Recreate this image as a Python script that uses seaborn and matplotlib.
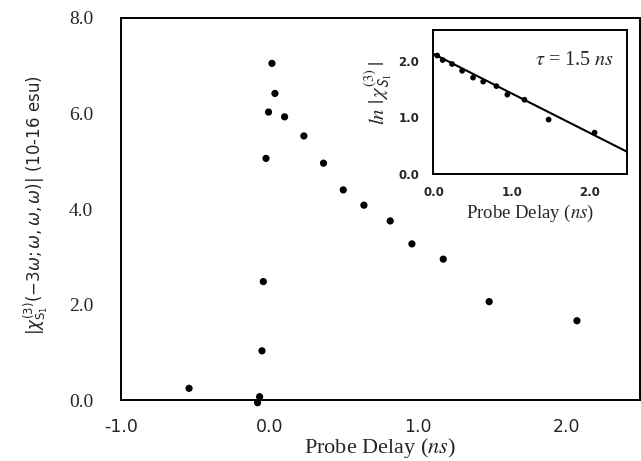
import matplotlib
matplotlib.use("Agg")
import matplotlib.pyplot as plt
import seaborn as sns
import pandas as pd
from matplotlib.ticker import MultipleLocator, FixedLocator

# ---------------- data ----------------
delay_ns = [-0.542, -0.081, -0.067, -0.051, -0.042, -0.024, -0.007, 0.016, 0.036,
            0.101, 0.231, 0.363, 0.496, 0.635, 0.812, 0.958, 1.169, 1.478, 2.069]
chi3 = [0.245, -0.057, 0.069, 1.03, 2.48, 5.06, 6.03, 7.05, 6.42,
        5.93, 5.53, 4.96, 4.40, 4.08, 3.75, 3.27, 2.95, 2.06, 1.66]

inset_delay = [0.04, 0.11, 0.23, 0.36, 0.50, 0.63, 0.80, 0.94, 1.16, 1.47, 2.06]
inset_lnchi = [2.09, 2.01, 1.94, 1.82, 1.70, 1.63, 1.55, 1.40, 1.31, 0.96, 0.73]

fit_x = [-0.01, 2.48]
fit_y = [2.12, 0.39]

x_ticks = [-1.0, 0.0, 1.0, 2.0]
x_ticklabels = ["-1.0", "0.0", "1.0", "2.0"]
y_ticks = [0.0, 2.0, 4.0, 6.0, 8.0]
y_ticklabels = ["0.0", "2.0", "4.0", "6.0", "8.0"]
in_ticks = [0.0, 1.0, 2.0]
in_ticklabels = ["0.0", "1.0", "2.0"]

main_df = pd.DataFrame({"delay": delay_ns, "chi": chi3})
inset_df = pd.DataFrame({"delay": inset_delay, "lnchi": inset_lnchi})
fit_df = pd.DataFrame({"delay": fit_x, "lnchi": fit_y})

# ---------------- style ----------------
sns.set_style("white")
plt.rcParams["font.family"] = ["Liberation Serif", "DejaVu Sans"]
plt.rcParams["axes.linewidth"] = 1.4
plt.rcParams["axes.edgecolor"] = "black"

W, H = 641, 461
fig = plt.figure(figsize=(W / 100, H / 100), dpi=100)

def frac(l, t, r, b):
    return [l / W, 1 - b / H, (r - l) / W, (b - t) / H]

# main axes
ax = fig.add_axes(frac(121, 18, 639.5, 400))
sns.scatterplot(data=main_df, x="delay", y="chi", ax=ax, color="black",
                s=27, edgecolor="none", clip_on=False, legend=False, zorder=3)
ax.set_xlim(-1.0, 2.49)
ax.set_ylim(0.0, 8.0)
for sp in ax.spines.values():
    sp.set_visible(True)
    sp.set_color("black")
    sp.set_linewidth(1.4)

ax.set_xticks(x_ticks)
ax.set_xticklabels(x_ticklabels, family="DejaVu Sans", fontsize=12.5)
ax.xaxis.set_minor_locator(FixedLocator([-0.5, 0.5, 1.5]))
ax.tick_params(axis="x", which="major", direction="in", length=8, width=1.2,
               pad=13, color="black")
ax.tick_params(axis="x", which="minor", direction="in", length=4, width=1.0)
ax.set_yticks(y_ticks)
ax.set_yticklabels(y_ticklabels, family="Liberation Serif", fontsize=14)
ax.tick_params(axis="y", which="major", direction="in", length=7, width=1.2,
               pad=20)

ax.set_xlabel(r"Probe Delay ($\mathit{ns}$)", family="Liberation Serif",
              fontsize=16, math_fontfamily="stix")
ax.xaxis.set_label_coords(0.5, -0.093)
ax.set_ylabel(r"$|\chi^{(3)}_{\mathrm{S}_1}(-3\omega;\omega,\omega,\omega)|$ (10-16 esu)",
              family="DejaVu Sans", fontsize=12, math_fontfamily="dejavusans")
ax.yaxis.set_label_coords(-0.137, 0.51)

# inset axes
ins = fig.add_axes(frac(433.3, 30, 627.3, 174))
sns.lineplot(data=fit_df, x="delay", y="lnchi", ax=ins, color="black",
             linewidth=1.5, legend=False)
sns.scatterplot(data=inset_df, x="delay", y="lnchi", ax=ins, color="black",
                s=17, edgecolor="none", legend=False, zorder=3)
ins.set_xlim(-0.01, 2.48)
ins.set_ylim(0.0, 2.54)
for sp in ins.spines.values():
    sp.set_visible(True)
    sp.set_color("black")
    sp.set_linewidth(1.4)
ins.set_xticks(in_ticks)
ins.set_xticklabels(in_ticklabels, family="DejaVu Sans", fontsize=8.5,
                    fontweight="bold")
ins.set_yticks(in_ticks)
ins.set_yticklabels(in_ticklabels, family="DejaVu Sans", fontsize=8.5,
                    fontweight="bold")
ins.xaxis.set_minor_locator(MultipleLocator(0.5))
ins.yaxis.set_minor_locator(MultipleLocator(0.5))
ins.tick_params(which="major", direction="in", length=4, width=1.0, pad=9)
ins.tick_params(which="minor", direction="in", length=3, width=1.0)
ins.tick_params(axis="y", which="major", pad=10)
ins.set_xlabel(r"Probe Delay ($\mathit{ns}$)", family="Liberation Serif",
               fontsize=13.5, math_fontfamily="stix")
ins.xaxis.set_label_coords(0.5, -0.2)
ins.set_ylabel(r"$\mathit{ln}\ |\,\chi^{(3)}_{\mathsf{S}_1}\,|$", fontsize=15,
               math_fontfamily="stix")
ins.yaxis.set_label_coords(-0.2, 0.56)
ins.text(0.935, 0.79, r"$\tau$ = 1.5 $\mathit{ns}$", transform=ins.transAxes,
         ha="right", va="center", family="Liberation Serif", fontsize=14.5,
         math_fontfamily="stix")

fig.savefig("out.png", dpi=100)
